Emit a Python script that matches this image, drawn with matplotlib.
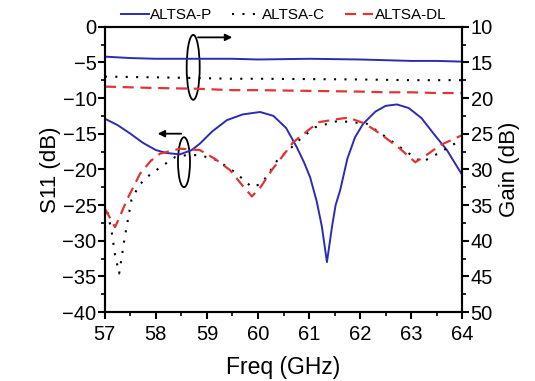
import matplotlib
matplotlib.use('Agg')
import matplotlib.pyplot as plt
from matplotlib.patches import Ellipse
from matplotlib.ticker import MultipleLocator
import numpy as np

plt.rcParams['font.family'] = ['Liberation Sans', 'DejaVu Sans']

# S11 curves (left axis)
f_p = [57.0, 57.25, 57.5, 57.75, 58.0, 58.2, 58.47, 58.7, 58.86, 59.1, 59.39, 59.7, 60.04, 60.3, 60.55,
       60.76, 60.9, 61.02, 61.15, 61.25, 61.35, 61.45, 61.52, 61.61, 61.75, 61.9, 62.06, 62.3, 62.5,
       62.72, 62.95, 63.2, 63.44, 63.7, 64.0]
s11_p = [-12.9, -13.8, -15.0, -16.3, -17.3, -17.7, -17.9, -17.3, -16.4, -14.7, -13.1, -12.3, -11.96, -12.5, -14.2,
         -16.9, -19.0, -21.1, -24.5, -28.0, -33.0, -28.0, -25.0, -22.9, -18.5, -15.5, -13.6, -11.9, -11.1,
         -10.9, -11.4, -12.8, -15.0, -17.3, -20.8]

f_c = [57.05, 57.13, 57.2, 57.28, 57.39, 57.52, 57.65, 57.78, 58.05, 58.37, 58.6, 58.86, 59.19, 59.55, 59.88,
       60.07, 60.4, 60.6, 60.85, 61.12, 61.57, 62.13, 62.59, 62.9, 63.21, 63.57, 63.9, 64.0]
s11_c = [-26.0, -28.6, -32.0, -34.6, -29.5, -24.3, -22.5, -21.3, -19.9, -18.3, -18.0, -18.0, -18.7, -20.4, -22.5,
         -22.0, -18.5, -17.3, -15.6, -14.1, -13.2, -13.6, -15.9, -17.5, -19.0, -17.6, -16.2, -15.8]

f_dl = [57.0, 57.1, 57.2, 57.3, 57.43, 57.69, 57.9, 58.08, 58.47, 58.86, 59.15, 59.45, 59.7, 59.88, 60.05,
        60.27, 60.69, 61.18, 61.61, 61.77, 62.1, 62.39, 62.78, 63.08, 63.3, 63.57, 64.0]
s11_dl = [-25.5, -26.8, -28.1, -26.5, -24.3, -20.6, -18.8, -17.8, -17.1, -17.3, -18.5, -20.1, -22.3, -23.8, -22.5,
          -20.1, -16.2, -13.4, -12.9, -12.75, -13.6, -15.0, -17.1, -19.0, -18.0, -16.6, -15.2]

# Gain curves (right axis)
f_g = [57.0, 57.5, 58.0, 58.8, 59.5, 60.0, 61.0, 62.0, 62.5, 63.0, 63.5, 64.0]
gain_p = [14.2, 14.4, 14.5, 14.5, 14.5, 14.6, 14.5, 14.6, 14.7, 14.8, 14.8, 14.9]
gain_c = [17.0, 17.05, 17.1, 17.2, 17.3, 17.3, 17.35, 17.4, 17.45, 17.5, 17.5, 17.5]
gain_dl = [18.4, 18.5, 18.6, 18.7, 18.9, 18.9, 19.0, 19.1, 19.2, 19.2, 19.3, 19.3]

blue = '#2b2bb5'
red = '#e03535'
dot = (0, (1, 4))
dash = (0, (5, 3))

fig = plt.figure(figsize=(5.35, 3.81), dpi=100)
ax = fig.add_axes([0.196, 0.181, 0.668, 0.749])
ax2 = ax.twinx()

ax.plot(f_p, s11_p, '-', color=blue, lw=1.4, label='ALTSA-P')
ax.plot(f_c, s11_c, color='black', lw=1.5, linestyle=dot, label='ALTSA-C')
ax.plot(f_dl, s11_dl, color=red, lw=1.6, linestyle=dash, label='ALTSA-DL')

ax2.plot(f_g, gain_p, '-', color=blue, lw=1.4)
ax2.plot(f_g, gain_c, color='black', lw=1.5, linestyle=dot)
ax2.plot(f_g, gain_dl, color=red, lw=1.6, linestyle=dash)

ax.set_xlim(57, 64)
ax.set_ylim(-40, 0)
ax2.set_ylim(50, 10)

ax.xaxis.set_major_locator(MultipleLocator(1))
ax.xaxis.set_minor_locator(MultipleLocator(0.5))
ax.yaxis.set_major_locator(MultipleLocator(5))
ax.yaxis.set_minor_locator(MultipleLocator(2.5))
ax2.yaxis.set_major_locator(MultipleLocator(5))
ax2.yaxis.set_minor_locator(MultipleLocator(2.5))

for a in (ax, ax2):
    a.tick_params(which='major', direction='out', length=5, width=1.5, labelsize=14.5, pad=1)
    a.tick_params(which='minor', direction='out', length=3, width=1.2)
    for s in a.spines.values():
        s.set_linewidth(1.5)
ax.tick_params(axis='x', which='major', pad=4)

ax.set_xlabel('Freq (GHz)', fontsize=16.5, labelpad=9)
ax.set_ylabel('S11 (dB)', fontsize=16, labelpad=1)
ax2.set_ylabel('Gain (dB)', fontsize=16, labelpad=4)

# annotation ellipses and arrows
ax.add_patch(Ellipse((58.73, -5.7), 0.255, 9.1, fill=False, lw=1.3, color='black'))
ax.annotate('', xy=(59.55, -1.5), xytext=(58.77, -1.5),
            arrowprops=dict(arrowstyle='-|>', color='black', lw=1.3, mutation_scale=10))
ax.add_patch(Ellipse((58.55, -19.0), 0.235, 7.0, fill=False, lw=1.3, color='black'))
ax.annotate('', xy=(57.98, -15.0), xytext=(58.55, -15.0),
            arrowprops=dict(arrowstyle='-|>', color='black', lw=1.3, mutation_scale=10))

ax.legend(loc='lower center', bbox_to_anchor=(0.5, 0.99), ncol=3, frameon=False,
          fontsize=11, handlelength=1.85, handletextpad=0.1, columnspacing=1.3, borderpad=0)

fig.savefig('out.png', dpi=100)
